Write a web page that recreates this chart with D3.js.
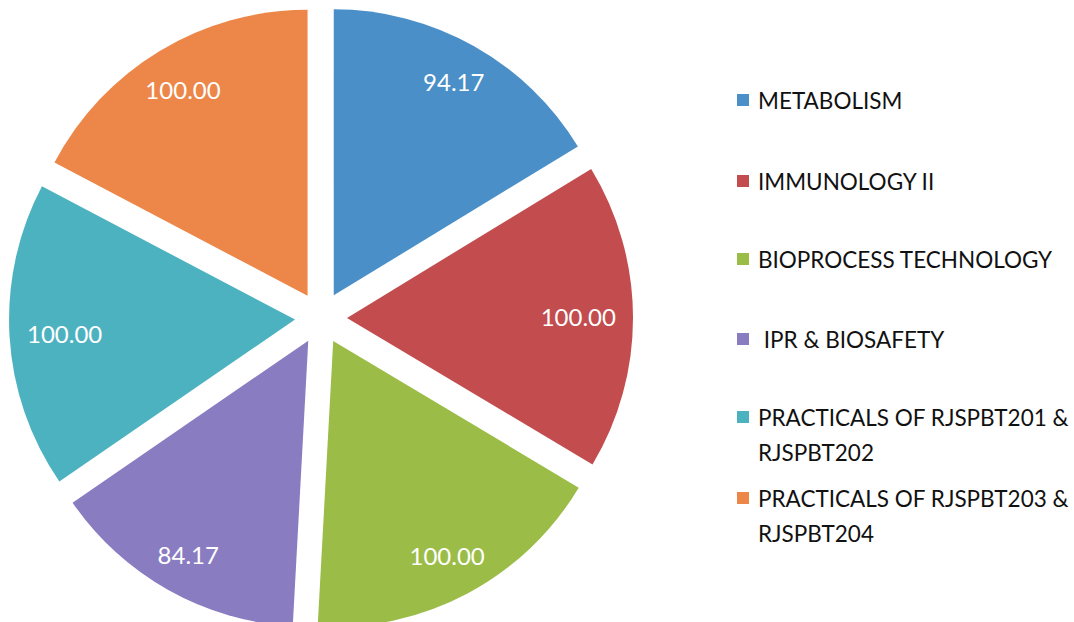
<!DOCTYPE html>
<html><head><meta charset="utf-8">
<script src="https://cdn.jsdelivr.net/npm/d3@7"></script>
<style>html,body{margin:0;padding:0;background:#fff;}svg{display:block;}</style>
</head><body>
<svg id="chart" width="1074" height="622"></svg>
<script>
const categories = ["METABOLISM", "IMMUNOLOGY II", "BIOPROCESS TECHNOLOGY", " IPR & BIOSAFETY",
  "PRACTICALS OF RJSPBT201 & RJSPBT202", "PRACTICALS OF RJSPBT203 & RJSPBT204"];
const legendLines = [["METABOLISM"], ["IMMUNOLOGY II"], ["BIOPROCESS TECHNOLOGY"], ["\u00a0IPR & BIOSAFETY"],
  ["PRACTICALS OF RJSPBT201 &", "RJSPBT202"], ["PRACTICALS OF RJSPBT203 &", "RJSPBT204"]];
const values = [94.17, 100.00, 100.00, 84.17, 100.00, 100.00];
const colors = ["#4a8fc7", "#c24c4e", "#9bbd48", "#8a7cc1", "#4db2c0", "#ec8749"];

const svg = d3.select("#chart");
const cx = 321, cy = 318, r = 286, explode = 26;
const pie = d3.pie().sort(null).value(d => d)(values);
const arc = d3.arc().innerRadius(0).outerRadius(r);
const g = svg.append("g").attr("transform", `translate(${cx},${cy})`);
const fontFam = "Lato, 'Open Sans', sans-serif";

const slices = g.selectAll("g.slice").data(pie).enter().append("g").attr("class", "slice")
  .attr("transform", d => {
    const a = (d.startAngle + d.endAngle) / 2;
    return `translate(${explode * Math.sin(a)},${-explode * Math.cos(a)})`;
  });
slices.append("path").attr("d", arc).attr("fill", (d, i) => colors[i]);

slices.append("text")
  .text(d => d.data.toFixed(2))
  .attr("font-family", fontFam).attr("font-size", 24).attr("fill", "#fff")
  .attr("text-anchor", "middle").attr("dominant-baseline", "central")
  .each(function(d) {
    const a = (d.startAngle + d.endAngle) / 2;
    const w = this.getComputedTextLength(), h = 20, pad = 17;
    const D = r - pad - (w / 2) * Math.abs(Math.sin(a)) - (h / 2) * Math.abs(Math.cos(a));
    d3.select(this).attr("x", D * Math.sin(a)).attr("y", -D * Math.cos(a));
  });

// legend
const legendY = [100, 181, 259, 339, 417, 498];
const lg = svg.append("g");
legendLines.forEach((lines, i) => {
  const y = legendY[i];
  lg.append("rect").attr("x", 737).attr("y", y - 6).attr("width", 12).attr("height", 12).attr("fill", colors[i]);
  const t = lg.append("text").attr("x", 758).attr("y", y)
    .attr("font-family", fontFam).attr("font-size", 22.5).attr("fill", "#111")
    .attr("dominant-baseline", "central");
  lines.forEach((ln, j) => {
    t.append("tspan").attr("x", 758).attr("dy", j === 0 ? 0 : 35).text(ln);
  });
});
</script>
</body></html>
